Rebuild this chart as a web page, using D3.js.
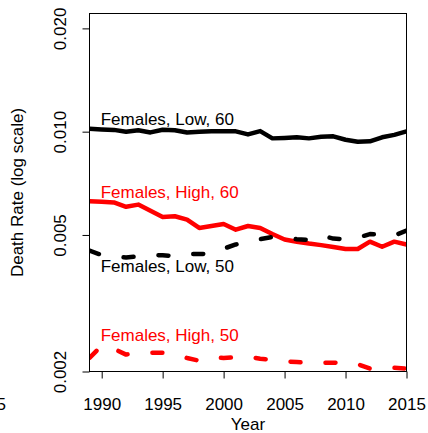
<!DOCTYPE html>
<html>
<head>
<meta charset="utf-8">
<script src="https://cdn.jsdelivr.net/npm/d3@7"></script>
<style>
  html, body { margin: 0; padding: 0; background: #fff; }
  svg { display: block; font-family: "Liberation Sans", Arial, sans-serif; }
</style>
</head>
<body>
<svg id="chart" width="428" height="433"></svg>
<script>
const years = d3.range(1989, 2016);
const lowF60  = [0.01019,0.01015,0.01012,0.00999,0.01010,0.00995,0.01013,0.01010,0.00995,0.01000,0.01002,0.01002,0.01002,0.00982,0.01004,0.00956,0.00959,0.00963,0.00956,0.00966,0.00969,0.00947,0.00934,0.00937,0.00963,0.00979,0.01002];
const highF60 = [0.00627,0.00625,0.00622,0.00604,0.00613,0.00588,0.00564,0.00567,0.00554,0.00524,0.00531,0.00538,0.00518,0.00531,0.00524,0.00503,0.00485,0.00478,0.00472,0.00467,0.00461,0.00455,0.00455,0.00478,0.00462,0.00478,0.00469];
const lowF50  = [0.00450,0.00437,0.00431,0.00430,0.00433,0.00437,0.00436,0.00434,0.00440,0.00440,0.00441,0.00456,0.00469,0.00477,0.00486,0.00493,0.00491,0.00486,0.00483,0.00498,0.00488,0.00486,0.00491,0.00503,0.00500,0.00498,0.00515];
const highF50 = [0.00219,0.00238,0.00233,0.00224,0.00227,0.00227,0.00227,0.00225,0.00219,0.00215,0.00220,0.00219,0.00220,0.00221,0.00218,0.00216,0.00214,0.00213,0.00212,0.00212,0.00212,0.00213,0.00210,0.00204,0.00205,0.00205,0.00204];
const seriesNames = ["Females, Low, 60", "Females, High, 60", "Females, Low, 50", "Females, High, 50"];
const seriesColors = ["#000000", "#ff0000", "#000000", "#ff0000"];
const seriesDashed = [false, false, true, true];
const labelValues = [0.01043, 0.00641, 0.00391, 0.00246];
const labelYear = 1990;
const yTicks = [0.002, 0.005, 0.010, 0.020];
const xTicks = [1990, 1995, 2000, 2005, 2010, 2015];

const seriesValues = [lowF60, highF60, lowF50, highF50];

const svg = d3.select("#chart");
const pLeft = 89.5, pRight = 406.5, pTop = 13.5, pBottom = 371.5;

const x = d3.scaleLinear().domain([1989, 2015]).range([pLeft, pRight]);
const y = d3.scaleLog().domain([0.002, 0.0221]).range([pBottom, pTop]);

svg.append("defs").append("clipPath").attr("id", "plotclip")
  .append("rect").attr("x", pLeft).attr("y", pTop)
  .attr("width", pRight - pLeft).attr("height", pBottom - pTop);

const line = d3.line().x((d, i) => x(years[i])).y(d => y(d));

const g = svg.append("g").attr("clip-path", "url(#plotclip)");
seriesValues.forEach((vals, k) => {
  g.append("path")
    .attr("d", line(vals))
    .attr("fill", "none")
    .attr("stroke", seriesColors[k])
    .attr("stroke-width", 4.5)
    .attr("stroke-linejoin", "round")
    .attr("stroke-linecap", seriesDashed[k] ? "round" : "butt")
    .attr("stroke-dasharray", seriesDashed[k] ? "10,25" : null);
});

// labels
seriesNames.forEach((name, k) => {
  svg.append("text")
    .attr("x", x(labelYear) - 1)
    .attr("y", y(labelValues[k]))
    .attr("fill", seriesColors[k])
    .attr("font-size", 17)
    .text(name);
});

// box
svg.append("rect")
  .attr("x", pLeft).attr("y", pTop)
  .attr("width", pRight - pLeft).attr("height", pBottom - pTop)
  .attr("fill", "none").attr("stroke", "#000").attr("stroke-width", 1);

// y axis
const yAxis = svg.append("g").attr("transform", `translate(${pLeft},0)`)
  .call(d3.axisLeft(y).tickValues(yTicks).tickFormat(d3.format(".3f")).tickSize(7).tickSizeOuter(0));
yAxis.select(".domain").remove();
yAxis.selectAll(".tick line").attr("stroke", "#000");
yAxis.selectAll(".tick text")
  .attr("font-size", 17).attr("font-family", "Liberation Sans, Arial, sans-serif")
  .attr("fill", "#000")
  .attr("x", null).attr("dy", null)
  .attr("text-anchor", "middle")
  .attr("transform", "translate(-24,0) rotate(-90)");

// x axis
const xAxis = svg.append("g").attr("transform", `translate(0,${pBottom})`)
  .call(d3.axisBottom(x).tickValues(xTicks).tickFormat(d3.format("d")).tickSize(7).tickSizeOuter(0));
xAxis.select(".domain").remove();
xAxis.selectAll(".tick line").attr("stroke", "#000");
xAxis.selectAll(".tick text")
  .attr("font-size", 17).attr("font-family", "Liberation Sans, Arial, sans-serif")
  .attr("fill", "#000")
  .attr("dy", null).attr("y", 38.5);

// axis titles
svg.append("text")
  .attr("transform", `translate(23,${(pTop + pBottom) / 2}) rotate(-90)`)
  .attr("text-anchor", "middle").attr("font-size", 17)
  .text("Death Rate (log scale)");
svg.append("text")
  .attr("x", (pLeft + pRight) / 2).attr("y", 429.5)
  .attr("text-anchor", "middle").attr("font-size", 17)
  .text("Year");

// cut-off tick label from neighbouring panel
svg.append("text")
  .attr("x", 6).attr("y", 410)
  .attr("text-anchor", "end").attr("font-size", 17)
  .text(String(xTicks[xTicks.length - 1]));
</script>
</body>
</html>
